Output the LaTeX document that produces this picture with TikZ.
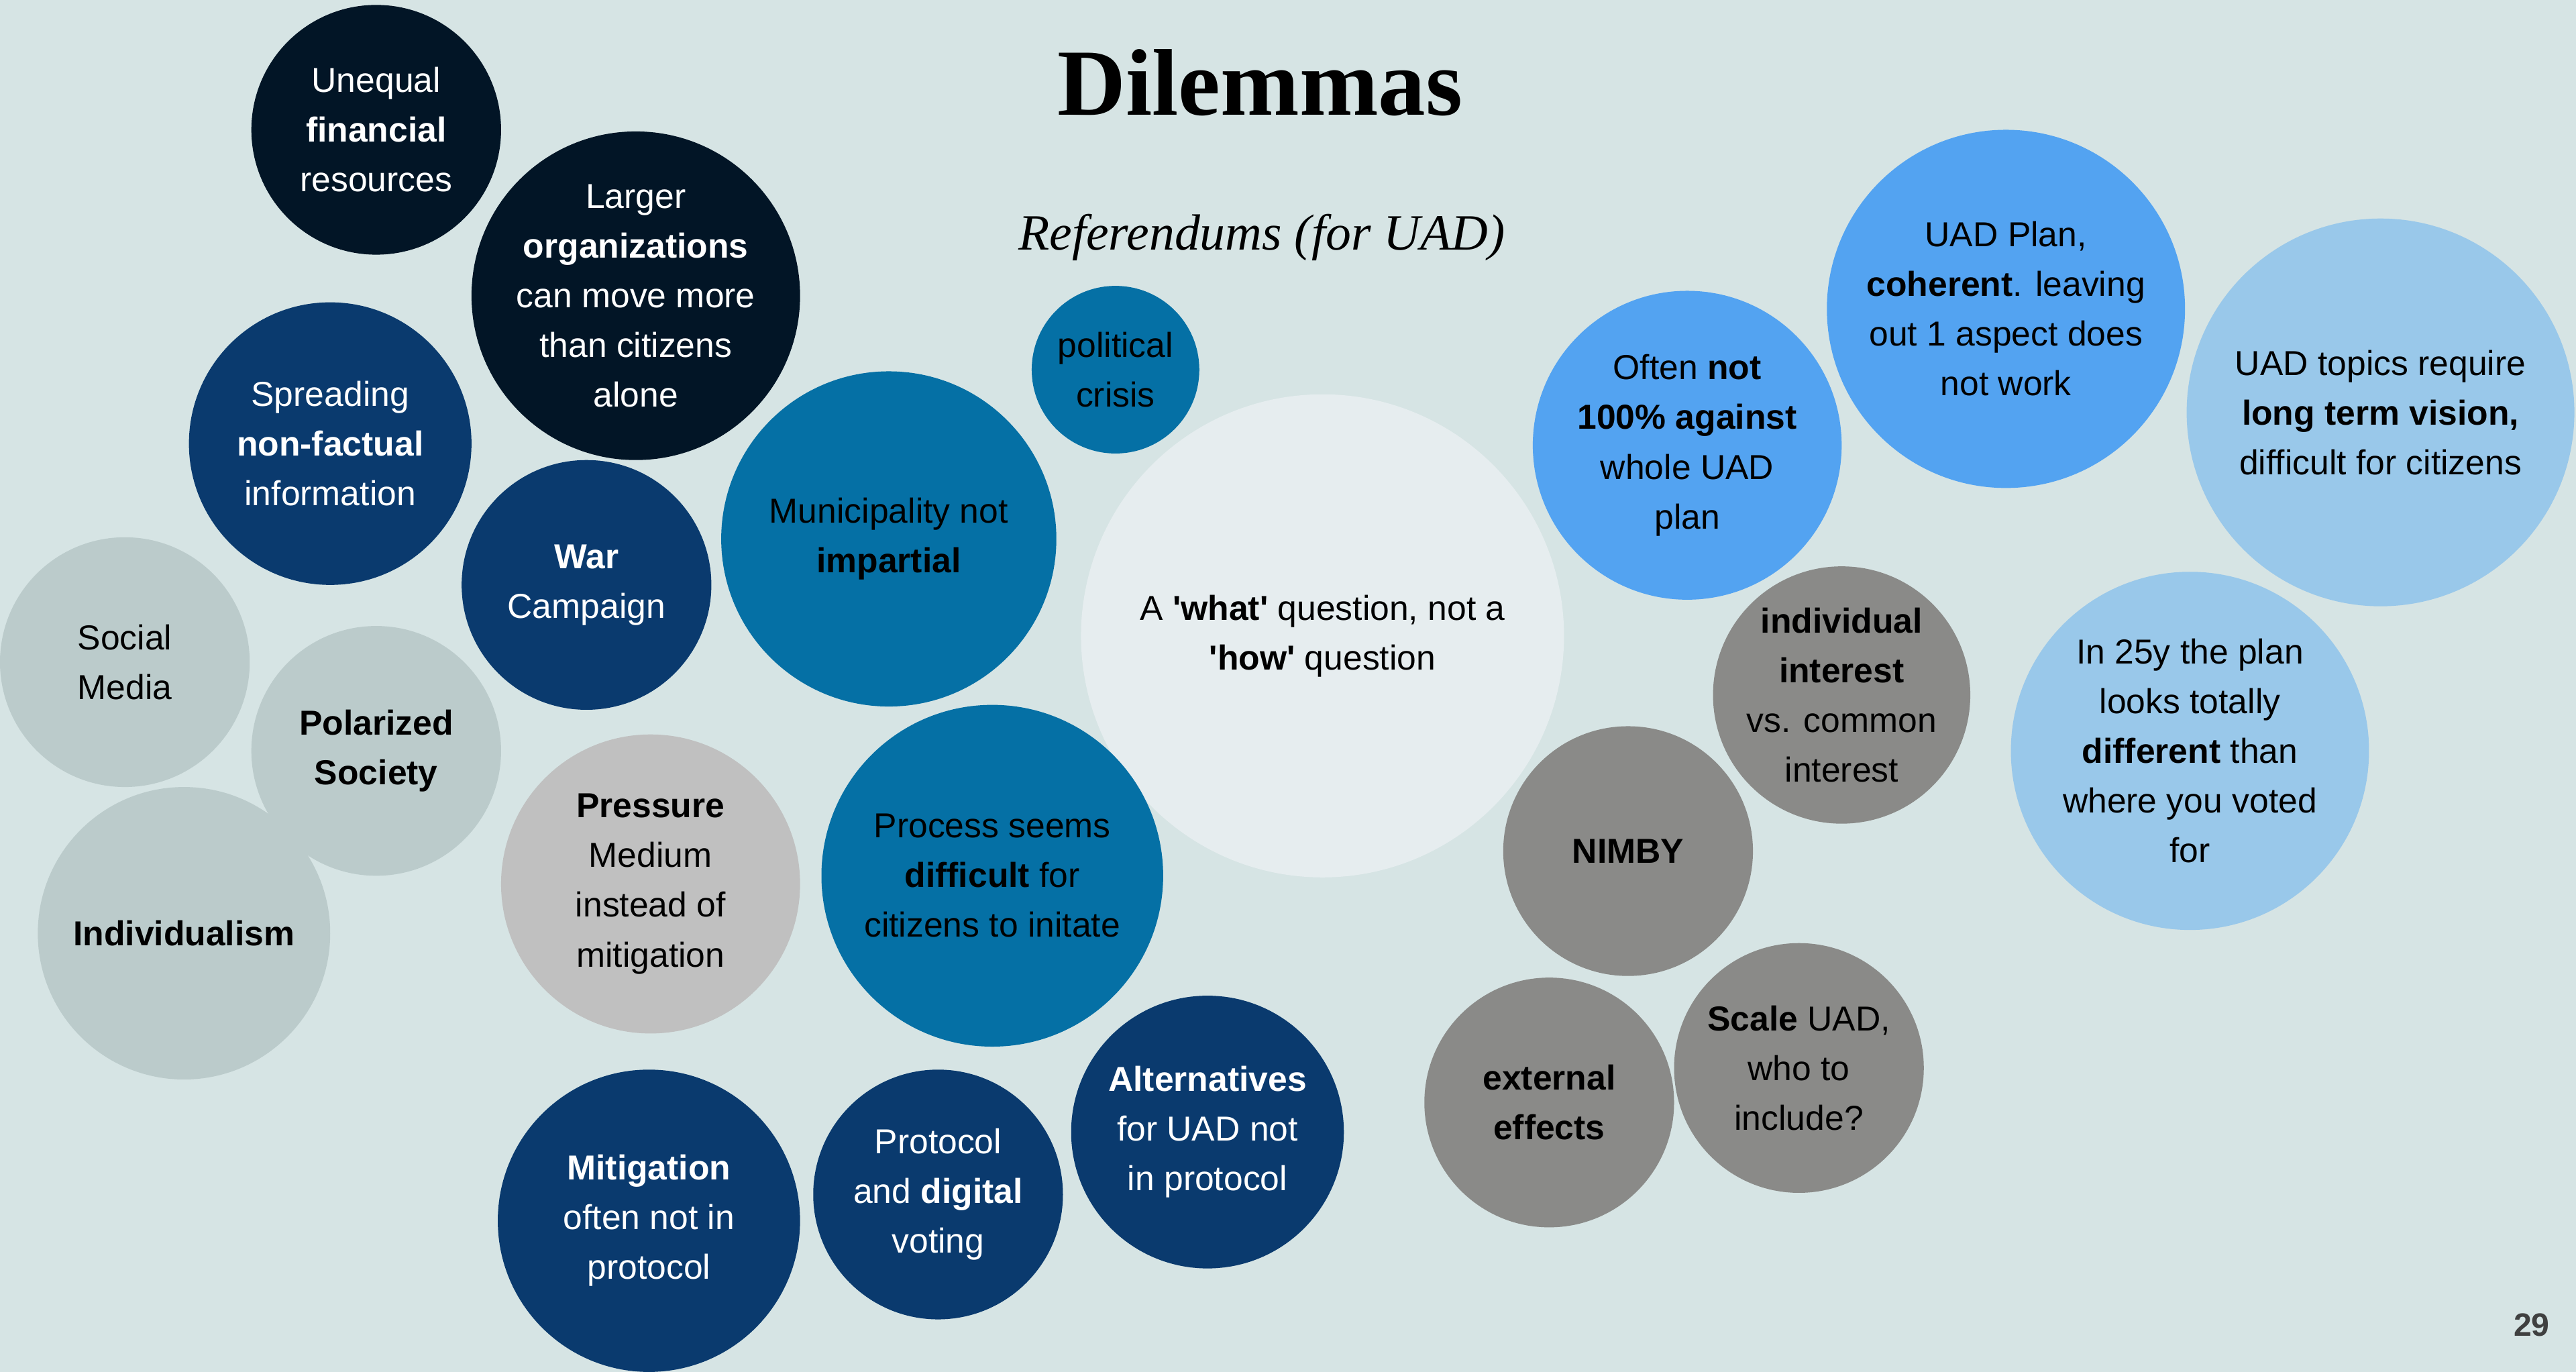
\documentclass[tikz,border=0pt]{standalone}
\usepackage{fontspec}
\setmainfont{Liberation Sans}
\newfontfamily\titlefont{Liberation Serif}
\usepackage{xcolor}
\usepackage{tikz}
\definecolor{slide}{HTML}{D6E4E4}
\definecolor{night}{HTML}{021526}
\definecolor{navy}{HTML}{0A3A6E}
\definecolor{teal}{HTML}{0570A5}
\definecolor{pale}{HTML}{E6EDEF}
\definecolor{sage}{HTML}{BBCBCB}
\definecolor{silver}{HTML}{C0C0C0}
\definecolor{azure}{HTML}{53A3F1}
\definecolor{sky}{HTML}{99C8EA}
\definecolor{stone}{HTML}{8A8A88}

\tikzset{
  bubble/.style={circle, inner sep=0pt, align=center, minimum size=#1mm,
    font=\fontsize{30}{43}\selectfont},
  nightball/.style={fill=night, text=white},
  navyball/.style={fill=navy, text=white},
  tealball/.style={fill=teal, text=black},
  paleball/.style={fill=pale, text=black},
  sageball/.style={fill=sage, text=black},
  silverball/.style={fill=silver, text=black},
  azureball/.style={fill=azure, text=black},
  skyball/.style={fill=sky, text=black},
  stoneball/.style={fill=stone, text=black}
}

\begin{document}
\begin{tikzpicture}[x=0.5mm, y=-0.5mm]
  \fill[slide] (0,0) rectangle (1568,835);
  \useasboundingbox (0,0) rectangle (1568,835);

  \node[anchor=base] (title) at (767,70)
    {\titlefont\bfseries\fontsize{82}{90}\selectfont Dilemmas};
  \node[anchor=base] (subtitle) at (768,152)
    {\titlefont\itshape\fontsize{44}{50}\selectfont Referendums (for UAD)};

  \node[bubble=76, nightball] (money) at (229,79)
    {Unequal\\\textbf{financial}\\resources};
  \node[bubble=100, nightball] (orgs) at (387,180)
    {Larger\\\textbf{organizations}\\can move more\\than citizens\\alone};
  \node[bubble=86, navyball] (spread) at (201,270)
    {Spreading\\\textbf{non-factual}\\information};
  \node[bubble=76, navyball] (war) at (357,356)
    {\textbf{War}\\Campaign};
  \node[bubble=102, tealball] (muni) at (541,328)
    {Municipality not\\\textbf{impartial}};
  \node[bubble=51, tealball] (crisis) at (679,225)
    {political\\crisis};
  \node[bubble=147, paleball] (what) at (805,387)
    {A \textbf{\textquotesingle what\textquotesingle} question, not a\\\textbf{\textquotesingle how\textquotesingle} question};

  \node[bubble=76, sageball] (social) at (76,403)
    {Social\\Media};
  \node[bubble=76, sageball] (polar) at (229,457)
    {\textbf{Polarized}\\\textbf{Society}};
  \node[bubble=89, sageball] (indiv) at (112,568)
    {\textbf{Individualism}};
  \node[bubble=91, silverball] (press) at (396,538)
    {\textbf{Pressure}\\Medium\\instead of\\mitigation};
  \node[bubble=104, tealball] (process) at (604,533)
    {Process seems\\\textbf{difficult} for\\citizens to initate};

  \node[bubble=92, navyball] (mitig) at (395,743)
    {\textbf{Mitigation}\\often not in\\protocol};
  \node[bubble=76, navyball] (digital) at (571,727)
    {Protocol\\and \textbf{digital}\\voting};
  \node[bubble=83, navyball] (alt) at (735,689)
    {\textbf{Alternatives}\\for UAD not\\in protocol};

  \node[bubble=94, azureball] (against) at (1027,271)
    {Often \textbf{not}\\\textbf{100\% against}\\whole UAD\\plan};
  \node[bubble=109, azureball] (plan) at (1221,188)
    {UAD Plan,\\\textbf{coherent}. leaving\\out 1 aspect does\\not work};
  \node[bubble=118, skyball] (vision) at (1449,251)
    {UAD topics require\\\textbf{long term vision,}\\difficult for citizens};
  \node[bubble=109, skyball] (years) at (1333,457)
    {In 25y the plan\\looks totally\\\textbf{different} than\\where you voted\\for};

  \node[bubble=76, stoneball] (common) at (1121,423)
    {\textbf{individual}\\\textbf{interest}\\vs. common\\interest};
  \node[bubble=76, stoneball] (nimby) at (991,518)
    {\textbf{NIMBY}};
  \node[bubble=76, stoneball] (effects) at (943,671)
    {\textbf{external}\\\textbf{effects}};
  \node[bubble=76, stoneball] (scale) at (1095,650)
    {\textbf{Scale} UAD,\\who to\\include?};

  \node[anchor=base, text=black!75, font=\bfseries\fontsize{28}{30}\selectfont]
    (page) at (1541,813) {29};
\end{tikzpicture}
\end{document}
